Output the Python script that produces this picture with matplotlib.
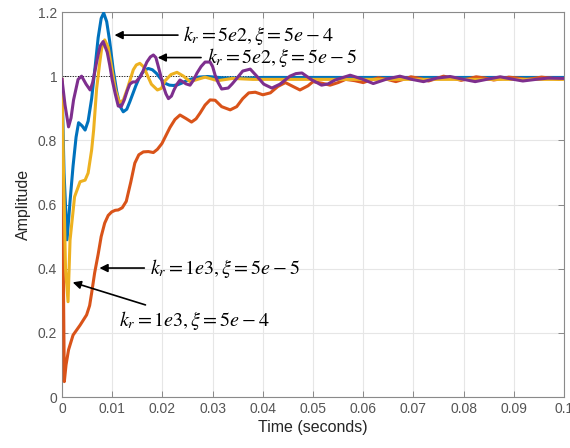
import matplotlib
matplotlib.use("Agg")
import matplotlib.pyplot as plt

# step responses (time in s, amplitude)
t_blue = [0, 0.0004, 0.001, 0.0016, 0.0022, 0.0028, 0.0033, 0.0040, 0.0046, 0.0052,
          0.0059, 0.0066, 0.0072, 0.0078, 0.0083, 0.0089, 0.0095, 0.0102, 0.0109, 0.0116,
          0.0122, 0.0129, 0.0135, 0.0141, 0.0147, 0.0153, 0.0159, 0.0166, 0.0172, 0.018,
          0.0188, 0.0196, 0.0205, 0.0214, 0.0222, 0.023, 0.0238, 0.0247, 0.0255, 0.0272,
          0.029, 0.032, 0.036, 0.04, 0.045, 0.05, 0.06, 0.07, 0.08, 0.09, 0.1]
y_blue = [0.98, 0.70, 0.49, 0.61, 0.72, 0.81, 0.855, 0.845, 0.832, 0.86,
          0.93, 1.03, 1.12, 1.18, 1.197, 1.17, 1.108, 1.02, 0.952, 0.905,
          0.889, 0.897, 0.92, 0.945, 0.97, 0.992, 1.009, 1.02, 1.024, 1.02,
          1.009, 0.993, 0.978, 0.972, 0.971, 0.973, 0.978, 0.985, 0.99, 0.997,
          0.999, 0.995, 0.994, 0.996, 0.996, 0.996, 0.996, 0.996, 0.996, 0.996, 0.996]

t_orange = [0, 0.0002, 0.00046, 0.0008, 0.0013, 0.0022, 0.0036, 0.0049, 0.0055, 0.0059,
            0.0065, 0.0072, 0.0078, 0.0085, 0.0092, 0.0099, 0.0106, 0.0112, 0.012, 0.0128,
            0.0137, 0.0145, 0.0153, 0.0162, 0.0172, 0.0182, 0.019, 0.0199, 0.0207, 0.0215,
            0.0225, 0.0235, 0.0247, 0.0258, 0.0267, 0.0275, 0.0285, 0.0295, 0.0305, 0.0318,
            0.0335, 0.0348, 0.036, 0.0372, 0.0385, 0.040, 0.0415, 0.043, 0.0445, 0.046,
            0.0474, 0.049, 0.050, 0.0518, 0.0534, 0.055, 0.0565, 0.0583, 0.060, 0.0615,
            0.063, 0.0648, 0.0665, 0.068, 0.0695, 0.0713, 0.073, 0.0745, 0.076, 0.0778,
            0.0795, 0.081, 0.0825, 0.0843, 0.086, 0.0875, 0.089, 0.0908, 0.0925, 0.094,
            0.0955, 0.0973, 0.099, 0.1]
y_orange = [0.99, 0.50, 0.048, 0.10, 0.147, 0.193, 0.224, 0.256, 0.285, 0.324,
            0.387, 0.445, 0.50, 0.542, 0.566, 0.577, 0.582, 0.583, 0.59, 0.61,
            0.67, 0.729, 0.755, 0.764, 0.765, 0.762, 0.772, 0.79, 0.815, 0.84,
            0.865, 0.879, 0.868, 0.857, 0.867, 0.885, 0.91, 0.926, 0.925, 0.905,
            0.895, 0.905, 0.93, 0.948, 0.95, 0.942, 0.948, 0.968, 0.98, 0.968,
            0.957, 0.97, 0.983, 0.978, 0.972, 0.98, 0.99, 0.986, 0.98, 0.988,
            0.995, 0.99, 0.983, 0.99, 0.998, 0.993, 0.985, 0.992, 1.0, 0.994,
            0.987, 0.992, 0.998, 0.994, 0.988, 0.992, 0.997, 0.994, 0.99, 0.993,
            0.997, 0.994, 0.99, 0.993]

t_yellow = [0, 0.0003, 0.0007, 0.0012, 0.0016, 0.0025, 0.0036, 0.0046, 0.0052, 0.0059,
            0.0063, 0.0069, 0.0075, 0.0079, 0.0085, 0.0092, 0.0098, 0.0106, 0.0114, 0.0122,
            0.013, 0.0136, 0.0142, 0.0148, 0.0155, 0.0162, 0.0168, 0.0178, 0.019, 0.0198,
            0.0205, 0.0217, 0.0229, 0.0242, 0.0255, 0.027, 0.0285, 0.031, 0.034, 0.038,
            0.045, 0.05, 0.06, 0.07, 0.08, 0.09, 0.1]
y_yellow = [0.98, 0.70, 0.40, 0.297, 0.489, 0.624, 0.671, 0.676, 0.698, 0.77,
            0.832, 0.962, 1.04, 1.087, 1.113, 1.09, 1.035, 0.96, 0.918, 0.925,
            0.96, 0.99, 1.02, 1.035, 1.04, 1.03, 1.01, 0.975, 0.957, 0.962,
            0.985, 1.005, 1.012, 1.0, 0.983, 0.99, 0.997, 0.986, 0.993, 0.99,
            0.99, 0.99, 0.99, 0.99, 0.99, 0.99, 0.99]

t_purple = [0, 0.0006, 0.0013, 0.0018, 0.0023, 0.0032, 0.0039, 0.0048, 0.0056, 0.0061,
            0.0066, 0.0071, 0.0076, 0.0082, 0.009, 0.0095, 0.01, 0.0106, 0.0112, 0.0118,
            0.0124, 0.013, 0.0135, 0.0141, 0.0147, 0.0157, 0.0163, 0.0169, 0.0176, 0.0182,
            0.0187, 0.0191, 0.0196, 0.0201, 0.0207, 0.0212, 0.0218, 0.0223, 0.0229, 0.0235,
            0.0247, 0.0255, 0.0262, 0.0269, 0.0277, 0.0285, 0.0295, 0.03, 0.0305, 0.0311,
            0.0318, 0.0331, 0.0339, 0.0347, 0.036, 0.0375, 0.0388, 0.0402, 0.0418, 0.0434,
            0.0454, 0.0466, 0.0478, 0.0496, 0.0517, 0.053, 0.0544, 0.0574, 0.0598, 0.062,
            0.0647, 0.0673, 0.0697, 0.072, 0.0747, 0.0773, 0.0797, 0.0823, 0.0849, 0.0873,
            0.0896, 0.0918, 0.0944, 0.0968, 0.1]
y_purple = [0.99, 0.91, 0.842, 0.87, 0.926, 0.99, 1.0, 0.975, 0.957, 0.98,
            1.02, 1.06, 1.094, 1.108, 1.075, 1.035, 0.988, 0.945, 0.907, 0.905,
            0.926, 0.955, 0.975, 0.982, 0.982, 1.0, 1.022, 1.044, 1.06, 1.066,
            1.058, 1.035, 1.005, 0.973, 0.945, 0.93, 0.938, 0.957, 0.975, 0.988,
            0.976, 0.972, 0.988, 1.01, 1.03, 1.044, 1.044, 1.03, 1.003, 0.98,
            0.96, 0.963, 0.976, 0.991, 1.016, 1.022, 1.0, 0.975, 0.963, 0.975,
            1.0, 1.008, 1.01, 0.99, 0.972, 0.976, 0.988, 1.003, 0.991, 0.977,
            0.991, 1.0, 0.99, 0.983, 0.994, 0.999, 0.991, 0.983, 0.991, 0.998,
            0.991, 0.985, 0.99, 0.994, 0.993]

labels = [r"$k_r = 5e2, \xi = 5e-4$", r"$k_r = 5e2, \xi = 5e-5$",
          r"$k_r = 1e3, \xi = 5e-5$", r"$k_r = 1e3, \xi = 5e-4$"]

plt.rcParams["font.family"] = ["Liberation Sans", "DejaVu Sans"]
plt.rcParams["mathtext.fontset"] = "stix"

fig = plt.figure(figsize=(5.7, 4.48), dpi=100)
ax = fig.add_axes([0.1088, 0.1138, 0.8807, 0.8594])

ax.axhline(1.0, color="black", lw=0.7, ls=":", zorder=1)
ax.plot(t_blue, y_blue, color="#0072BD", lw=2.2, zorder=3)
ax.plot(t_orange, y_orange, color="#D95319", lw=2.2, zorder=3)
ax.plot(t_yellow, y_yellow, color="#EDB120", lw=2.2, zorder=3)
ax.plot(t_purple, y_purple, color="#7E2F8E", lw=2.2, zorder=4)

ax.set_xlim(0, 0.1)
ax.set_ylim(0, 1.2)
ax.set_xticks([i / 100 for i in range(11)])
ax.set_xticklabels(["0"] + [f"{i / 100:g}" for i in range(1, 11)])
ax.set_yticks([0, 0.2, 0.4, 0.6, 0.8, 1.0, 1.2])
ax.set_yticklabels(["0", "0.2", "0.4", "0.6", "0.8", "1", "1.2"])
ax.grid(True, color="#e6e6e6", lw=0.8, zorder=0)
ax.set_axisbelow(True)
ax.tick_params(direction="in", length=4, width=0.6, colors="#7a7a7a",
               labelcolor="#555555", labelsize=10, top=True, right=True)
for s in ax.spines.values():
    s.set_color("#8a8a8a")
    s.set_linewidth(0.8)

ax.set_xlabel("Time (seconds)", fontsize=11.5, color="#262626", labelpad=3)
ax.set_ylabel("Amplitude", fontsize=11.5, color="#262626", labelpad=5)

arrow = dict(arrowstyle="-|>", color="black", lw=1.2, mutation_scale=12)
ann_kw = dict(fontsize=14.5, va="center", ha="left", arrowprops=arrow)
ax.annotate(labels[0], xy=(0.0099, 1.128), xytext=(0.0242, 1.128), **ann_kw)
ax.annotate(labels[1], xy=(0.0185, 1.058), xytext=(0.0288, 1.058), **ann_kw)
ax.annotate(labels[2], xy=(0.0069, 0.402), xytext=(0.0175, 0.402), **ann_kw)
ax.annotate(labels[3], xy=(0.0016, 0.36), xytext=(0.0113, 0.24), **ann_kw)

fig.savefig("out.png", dpi=100)
